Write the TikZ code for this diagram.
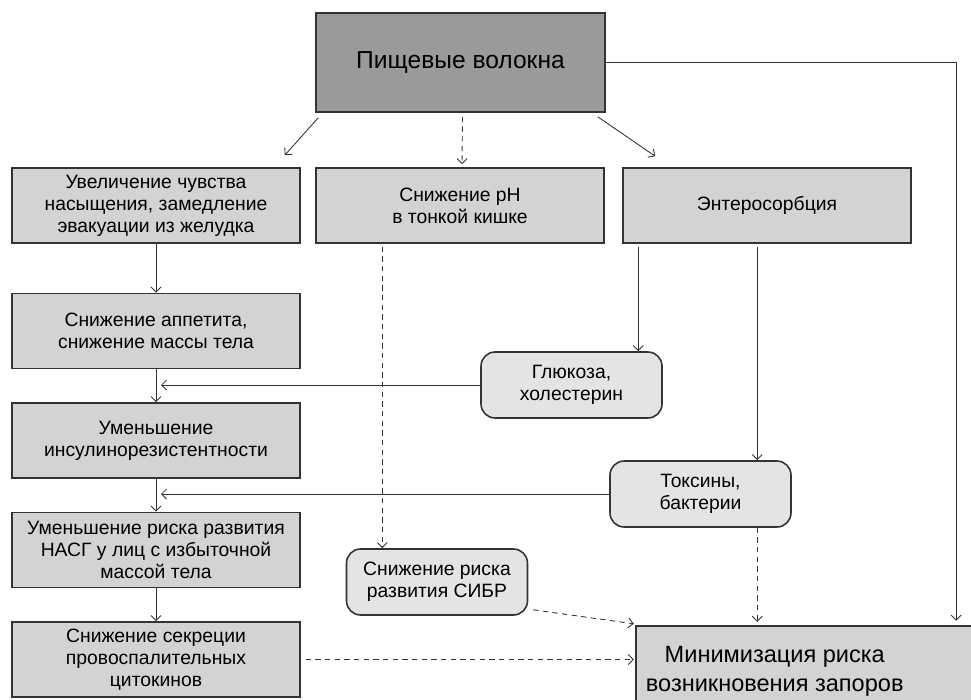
\documentclass[tikz,border=0pt]{standalone}
\usepackage{fontspec}
\setmainfont{Liberation Sans}
\usepackage{xcolor}
\usepackage{tikz}
\usetikzlibrary{shapes,arrows.meta,positioning,calc}

\definecolor{fibergray}{HTML}{9A9A9B}
\definecolor{boxgray}{HTML}{D3D3D5}
\definecolor{substgray}{HTML}{E4E4E6}
\definecolor{edgegray}{HTML}{333333}

\begin{document}
\begin{tikzpicture}[
    x=0.02cm, y=-0.02cm,
    box/.style={rectangle, draw=edgegray, line width=0.9pt, fill=boxgray, minimum width=5.76cm, minimum height=1.5cm, align=center, inner sep=1pt, font=\fontsize{11}{12.5}\selectfont},
    substance/.style={box, rounded corners=8pt, fill=substgray, minimum width=3.62cm, minimum height=1.32cm},
    arrow/.style={-{Straight Barb[length=1mm,width=2mm]}, edgegray, line width=0.5pt},
    dasharrow/.style={arrow, dash pattern=on 3pt off 2.5pt}
]
\clip (0,0) rectangle (971,700);

% Top
\node[box, fill=fibergray, minimum width=5.78cm, minimum height=1.98cm, font=\fontsize{14}{17}\selectfont] (fibers) at (460.5,62.5) {Пищевые волокна};

% Row of effects
\node[box] (satiety) at (156,205.5) {
    Увеличение чувства\\
    насыщения, замедление\\
    эвакуации из желудка
};
\node[box] (ph) at (460,205.5) {
    Снижение pH\\
    в тонкой кишке
};
\node[box] (entero) at (767,205.5) {Энтеросорбция};

% Left column
\node[box] (appetite) at (156,331) {
    Снижение аппетита,\\
    снижение массы тела
};
\node[box] (insulin) at (156,440.5) {
    Уменьшение\\
    инсулинорезистентности
};
\node[box] (nash) at (156,550) {
    Уменьшение риска развития\\
    НАСГ у лиц с избыточной\\
    массой тела
};
\node[box] (cytokines) at (156,659.5) {
    Снижение секреции\\
    провоспалительных\\
    цитокинов
};

% Sorbed substances
\node[substance] (glucose) at (571.5,385) {
    Глюкоза,\\
    холестерин
};
\node[substance] (toxins) at (700.5,494) {
    Токсины,\\
    бактерии
};
\node[substance] (sibo) at (437,582) {
    Снижение риска\\
    развития СИБР
};

% Result (box runs past the page edge, text sits left of its centre)
\node[box, line width=1.4pt, minimum width=7cm, minimum height=1.8cm, font=\fontsize{13.4}{16.5}\selectfont] (constip) at (811,671) {
    \begin{tabular}{@{}c@{}}Минимизация риска\\возникновения запоров\end{tabular}\hspace{1.32cm}
};

% Helper points
\coordinate (j1) at ($(appetite.south)+(5,0)$);
\coordinate (j2) at ($(insulin.south)+(5,0)$);
\coordinate (phout) at ($(ph.south west)+(67,3)$);
\coordinate (eout1) at ($(entero.south west)+(16,3)$);
\coordinate (eout2) at ($(entero.south west)+(135,3)$);
\coordinate (rside) at ($(constip.north east)+(-31,-4)$);

% Arrows
\draw[arrow] ($(fibers.south west)+(3,5)$) -- ($(satiety.north east)+(-16,-12)$);
\draw[dasharrow] ($(fibers.south)+(2,4)$) -- ($(ph.north)+(2,-3)$);
\draw[arrow] ($(fibers.south east)+(-8,4)$) -- ($(entero.north west)+(33,-11)$);
\draw[arrow] (fibers.east) -| (rside);

\draw[arrow] (satiety) -- (appetite);
\draw[arrow] (appetite) -- (insulin);
\draw[arrow] (insulin) -- (nash);
\draw[arrow] (nash) -- (cytokines);

\draw[arrow] (eout1) -- (eout1 |- glucose.north);
\draw[arrow] (eout2) -- (eout2 |- toxins.north);
\draw[arrow] (glucose.west) -- (glucose.west -| j1);
\draw[arrow] (toxins.west) -- (toxins.west -| j2);

\draw[dasharrow] (phout) -- (phout |- sibo.north);
\draw[dasharrow] (toxins.south -| eout2) -- ($(eout2 |- constip.north)+(0,-3)$);
\draw[dasharrow] ($(sibo.south east)+(5,-6)$) -- ($(constip.north west)+(-1,-1)$);
\draw[dasharrow] ($(cytokines.east)+(5,0)$) -- ($(constip.west |- cytokines.east)+(-1,0)$);

\end{tikzpicture}
\end{document}
